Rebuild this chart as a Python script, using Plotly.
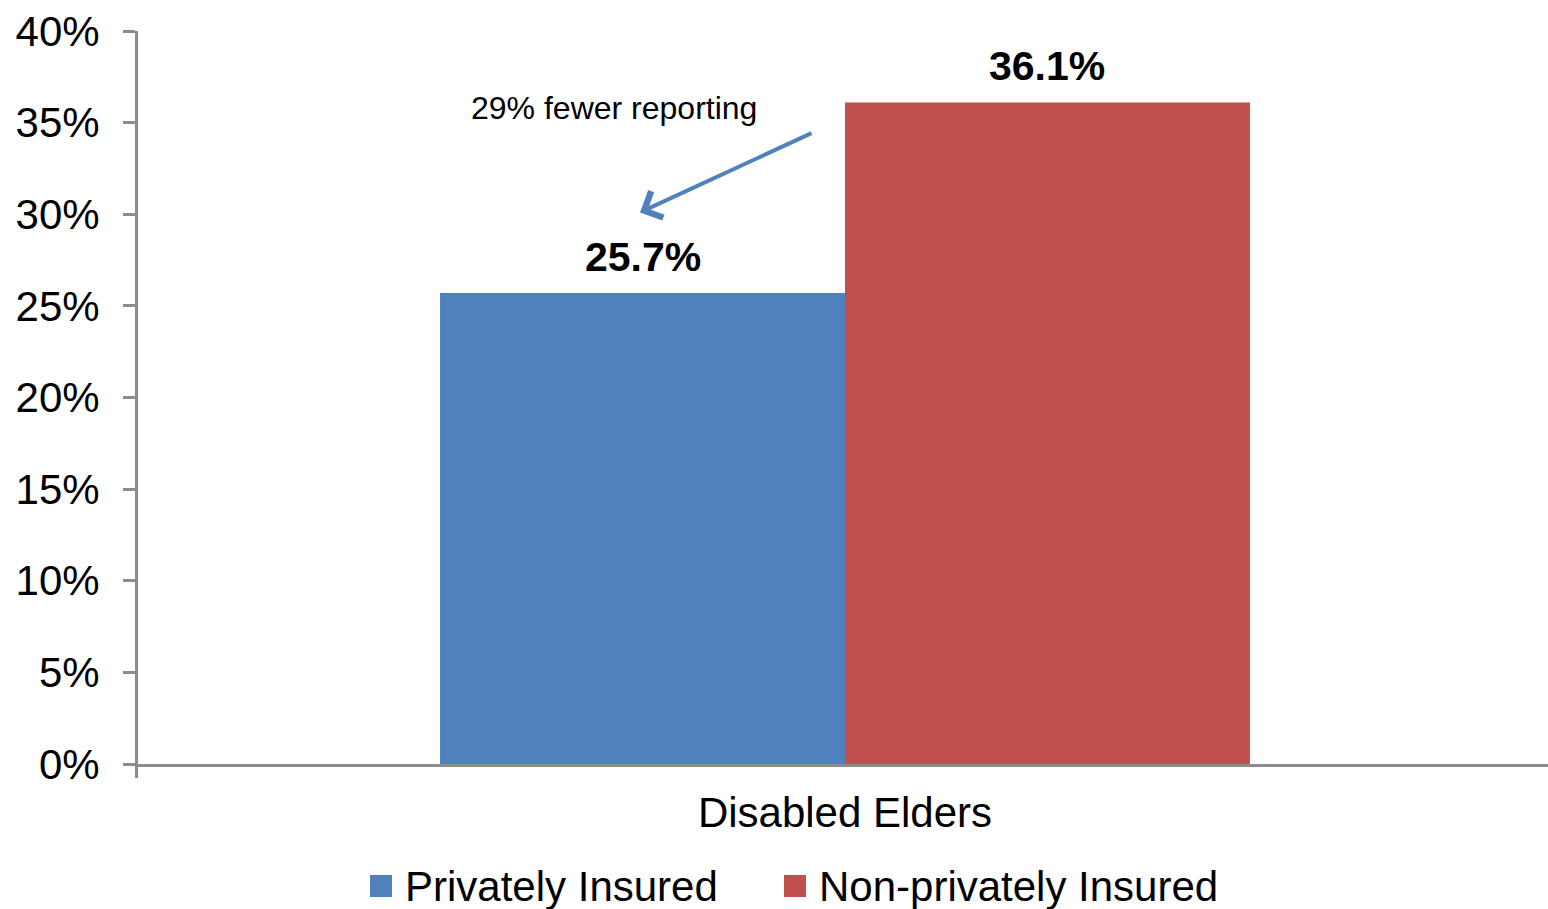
import plotly.graph_objects as go

# ---- data ----
categories = ["Disabled Elders"]
series_names = ["Privately Insured", "Non-privately Insured"]
privately_insured = [25.7]
non_privately_insured = [36.1]
series_values = [privately_insured, non_privately_insured]
series_colors = ["#4f81bd", "#c0504d"]
y_tick_values = [0, 5, 10, 15, 20, 25, 30, 35, 40]
y_tick_labels = ["0%", "5%", "10%", "15%", "20%", "25%", "30%", "35%", "40%"]
callout_text = "29% fewer reporting"

FONT = "Liberation Sans, Arial, sans-serif"
AXIS_GRAY = "#8c8c8c"
BARGAP = 0.4272
X_RANGE = [-0.5, 0.4972]

L, R, T, B = 138, 0, 31, 145
W, H = 1548, 909
plot_h = H - T - B
plot_w = W - L - R

fig = go.Figure()
n_series = len(series_names)
bar_w = (1 - BARGAP) / n_series
for i, (name, vals, col) in enumerate(zip(series_names, series_values, series_colors)):
    fig.add_trace(go.Bar(
        x=categories, y=vals, name=name,
        marker=dict(color=col, line=dict(width=0)),
        showlegend=False,
    ))
    # data labels above each bar
    offset = -(1 - BARGAP) / 2 + bar_w * (i + 0.5)
    for ci, v in enumerate(vals):
        fig.add_annotation(
            xref="x", yref="y", x=ci + offset, y=v,
            text=f"{v}%", showarrow=False,
            xanchor="center", yanchor="bottom", yshift=11,
            font=dict(family=FONT, size=41, color="black", weight="bold"),
        )

def px_x(px):
    return (px - L) / plot_w

def px_y(py):
    return (H - B - py) / plot_h

# callout text and arrow
fig.add_annotation(
    xref="paper", yref="paper", x=px_x(614), y=px_y(108),
    text=callout_text, showarrow=False,
    font=dict(family=FONT, size=32, color="black"),
    xanchor="center", yanchor="middle",
)
fig.add_annotation(
    xref="paper", yref="y", x=px_x(640), y=30.1,
    text="", showarrow=True, arrowhead=4, arrowsize=1.4, arrowwidth=4,
    arrowcolor="#4f81bd", ax=173, ay=-80,
)

# manual legend (large square swatches)
legend_items = [(370, 403), (784, 817)]
for (sx, tx), name, col in zip(legend_items, series_names, series_colors):
    fig.add_shape(
        type="rect", xref="paper", yref="paper",
        x0=px_x(sx), x1=px_x(sx + 22),
        y0=px_y(875), y1=px_y(897),
        fillcolor=col, line=dict(width=0),
    )
    fig.add_annotation(
        xref="paper", yref="paper", x=px_x(tx), y=px_y(886),
        text=name, showarrow=False, xanchor="left", yanchor="middle",
        font=dict(family=FONT, size=42, color="black"),
    )

# extra small tick at left end of x axis
fig.add_shape(
    type="line", xref="paper", yref="paper",
    x0=px_x(136.5), x1=px_x(136.5), y0=0, y1=px_y(778),
    line=dict(color=AXIS_GRAY, width=3),
)

fig.update_layout(
    width=W, height=H, autosize=False,
    margin=dict(l=L, r=R, t=T, b=B),
    paper_bgcolor="white", plot_bgcolor="white",
    barmode="group", bargap=BARGAP, bargroupgap=0,
    showlegend=False,
    font=dict(family=FONT, color="black"),
)
fig.update_xaxes(
    range=X_RANGE,
    showline=True, linecolor=AXIS_GRAY, linewidth=3,
    showgrid=False, ticks="", zeroline=False,
    tickfont=dict(family=FONT, size=42, color="black"),
    ticklabelstandoff=10,
)
fig.update_yaxes(
    range=[0, 40], tickvals=y_tick_values, ticktext=y_tick_labels,
    showline=True, linecolor=AXIS_GRAY, linewidth=3,
    ticks="outside", ticklen=12, tickwidth=3, tickcolor=AXIS_GRAY,
    showgrid=False, zeroline=False,
    tickfont=dict(family=FONT, size=42, color="black"),
    ticklabelstandoff=15,
)

fig.write_html("out.html")
